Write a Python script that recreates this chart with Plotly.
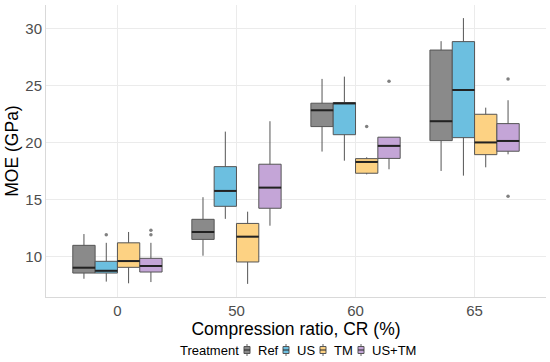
import numpy as np
import plotly.graph_objects as go

categories = ["0", "50", "60", "65"]
treatments = ["Ref", "US", "TM", "US+TM"]
colors = {"Ref": "#8a8a8a", "US": "#6cbfe0", "TM": "#fdd283", "US+TM": "#c4a5d7"}

# stats per treatment, in category order
lowerfence = {
    "Ref":   [8.05, 10.07, 19.2, 17.5],
    "US":    [7.8, 13.3, 18.4, 17.09],
    "TM":    [7.65, 7.6, 17.2, 17.82],
    "US+TM": [7.76, 12.7, 17.65, 18.96],
}
q1 = {
    "Ref":   [8.55, 11.5, 21.39, 20.16],
    "US":    [8.55, 14.4, 20.68, 20.42],
    "TM":    [9.05, 9.52, 17.3, 18.93],
    "US+TM": [8.64, 14.23, 18.6, 19.23],
}
median = {
    "Ref":   [9.02, 12.15, 22.82, 21.86],
    "US":    [8.75, 15.75, 23.42, 24.6],
    "TM":    [9.6, 11.74, 18.29, 20.0],
    "US+TM": [9.17, 16.04, 19.7, 20.13],
}
q3 = {
    "Ref":   [10.98, 13.26, 23.44, 28.1],
    "US":    [9.58, 17.88, 23.5, 28.84],
    "TM":    [11.2, 12.9, 18.58, 22.47],
    "US+TM": [9.84, 18.09, 20.46, 21.65],
}
upperfence = {
    "Ref":   [11.97, 15.2, 25.57, 28.88],
    "US":    [11.2, 20.95, 25.77, 30.9],
    "TM":    [12.15, 13.93, 18.7, 23.05],
    "US+TM": [11.2, 21.86, 20.46, 23.7],
}
# outliers: (category index, value)
outliers = {
    "Ref":   [],
    "US":    [(0, 11.9)],
    "TM":    [(2, 21.39)],
    "US+TM": [(0, 12.3), (0, 11.9), (2, 25.37), (3, 25.57), (3, 15.28)],
}
x_title = "Compression ratio, CR (%)"
y_title = "MOE (GPa)"
legend_title = "Treatment"

W, H = 550, 362
ML, MR, MT, MB = 46, 4, 5, 65
PW, PH = W - ML - MR, H - MT - MB

dodge = 0.75
bw = dodge / len(treatments)
base = np.arange(len(categories))

fig = go.Figure()
for i, t in enumerate(treatments):
    off = -dodge / 2 + bw * (i + 0.5)
    xs = base + off
    fig.add_trace(go.Box(
        x=xs, q1=q1[t], median=median[t], q3=q3[t],
        lowerfence=lowerfence[t], upperfence=upperfence[t],
        width=bw, fillcolor=colors[t], line=dict(color="#555555", width=1),
        whiskerwidth=0, name=t, boxpoints=False, hoverinfo="skip", showlegend=False,
    ))
    mx, my = [], []
    for x, m in zip(xs, median[t]):
        mx += [x - bw / 2, x + bw / 2, None]
        my += [m, m, None]
    fig.add_trace(go.Scatter(x=mx, y=my, mode="lines", line=dict(color="#222222", width=2),
                             showlegend=False, hoverinfo="skip"))
    if outliers[t]:
        fig.add_trace(go.Scatter(
            x=[base[c] + off for c, v in outliers[t]], y=[v for c, v in outliers[t]],
            mode="markers", marker=dict(color="#808080", size=3.5), showlegend=False, hoverinfo="skip"))

# manual legend (pixel layout converted to paper coordinates)
def px(x):
    return (x - ML) / PW

def py(y):
    return (MT + PH - y) / PH

legend_y = 350
label_left = [256, 295, 332, 370]
shapes = []
annotations = [
    dict(text=legend_title, x=px(178), y=py(legend_y), xref="paper", yref="paper",
         xanchor="left", yanchor="middle", showarrow=False,
         font=dict(size=13, color="#000000")),
]
for t, lx in zip(treatments, label_left):
    gx = lx - 9
    shapes.append(dict(type="line", xref="paper", yref="paper", x0=px(gx), x1=px(gx),
                       y0=py(legend_y - 6), y1=py(legend_y + 6), line=dict(color="#666666", width=1)))
    shapes.append(dict(type="rect", xref="paper", yref="paper", x0=px(gx - 3), x1=px(gx + 3),
                       y0=py(legend_y - 3.5), y1=py(legend_y + 3.5), fillcolor=colors[t],
                       line=dict(color="#555555", width=1)))
    shapes.append(dict(type="line", xref="paper", yref="paper", x0=px(gx - 3), x1=px(gx + 3),
                       y0=py(legend_y), y1=py(legend_y), line=dict(color="#222222", width=1)))
    annotations.append(dict(text=t, x=px(lx), y=py(legend_y), xref="paper", yref="paper",
                            xanchor="left", yanchor="middle", showarrow=False,
                            font=dict(size=13, color="#000000")))

font = "Liberation Sans, Arial, sans-serif"
fig.update_layout(
    width=W, height=H, plot_bgcolor="white", paper_bgcolor="white",
    margin=dict(l=ML, r=MR, t=MT, b=MB),
    boxmode="overlay", showlegend=False,
    font=dict(family=font, color="#000000"),
    shapes=shapes, annotations=annotations,
    xaxis=dict(range=[-0.6, 3.6], tickvals=list(base), ticktext=categories,
               showgrid=True, gridcolor="#ebebeb", gridwidth=1, zeroline=False,
               showline=True, linecolor="#d9d9d9", linewidth=1, automargin=False,
               tickfont=dict(size=15, color="#4d4d4d"), ticks="", ticklabelstandoff=0,
               title=dict(text=x_title, font=dict(size=17.5), standoff=0)),
    yaxis=dict(range=[6.45, 32.05], tickvals=[10, 15, 20, 25, 30],
               showgrid=True, gridcolor="#ebebeb", gridwidth=1, zeroline=False,
               showline=True, linecolor="#d9d9d9", linewidth=1, automargin=False,
               tickfont=dict(size=15, color="#4d4d4d"), ticks="", ticklabelstandoff=0,
               title=dict(text=y_title, font=dict(size=17.5), standoff=2)),
)
fig.write_html("out.html", config={"displayModeBar": False},
               post_script="document.body.style.margin='0';document.body.style.padding='0';")
